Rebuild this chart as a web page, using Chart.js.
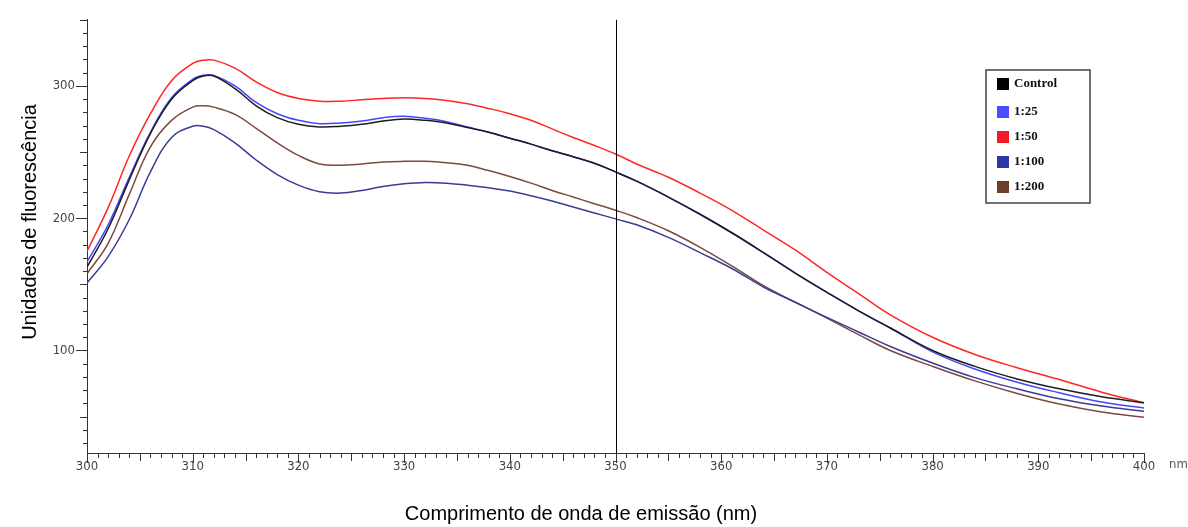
<!DOCTYPE html>
<html>
<head>
<meta charset="utf-8">
<script src="https://cdn.jsdelivr.net/npm/chart.js@4/dist/chart.umd.min.js"></script>
<style>
  html, body { margin: 0; padding: 0; background: #fff; }
  canvas { display: block; }
</style>
</head>
<body>
<canvas id="chart" width="1188" height="527"></canvas>
<script>
// emission wavelength (nm)
const wavelengths = [300, 302, 304, 306, 308, 310, 311, 312, 314, 316, 318, 320, 322, 324, 326, 328, 330,
  332, 334, 336, 338, 340, 342, 344, 346, 348, 350, 352, 355, 358, 361, 364, 367, 370, 373, 376,
  380, 384, 388, 392, 396, 400];

const controlValues = [163, 192, 229, 264, 290, 304, 307.5, 307.5, 298, 285, 276, 271, 269, 269.5, 271, 273.5, 275,
  274, 272, 268.5, 265, 260.5, 256, 251, 246.5, 241.5, 235, 228, 216, 203, 189, 174, 158.5, 144, 130, 117,
  100, 88, 78.5, 71, 65, 60.5];
const ratio25Values = [167, 195, 231, 265, 291, 305, 308, 308, 300, 287.5, 279, 274, 271.5, 272, 273.5, 276, 277,
  275.5, 273, 269, 265, 260.5, 256, 251, 246.5, 241.5, 235, 228, 216, 203, 189, 174, 158.5, 144, 130, 117,
  99, 86, 76, 68, 61, 56.5];
const ratio50Values = [175, 208, 247, 279, 304, 317, 319.5, 319.5, 313.5, 303, 295, 290.5, 288.5, 288.5, 289.5, 290.5, 291,
  290.5, 289, 286.5, 283, 279, 274, 267.5, 261, 255, 248.5, 241, 231, 219, 206, 191, 176, 159, 143, 127,
  110, 97, 87, 78, 68.5, 60.5];
const ratio100Values = [151, 171, 199, 235, 261, 269.5, 269.5, 267, 257, 244, 233, 225, 220, 219, 221, 224, 226,
  227, 226.5, 225, 223, 220.5, 217, 213, 208.5, 204, 199.5, 195, 185.5, 174, 162, 148, 136.5, 125, 114, 103,
  90.5, 79.5, 71, 63.5, 58, 54];
const ratio200Values = [158, 181, 218, 254, 274, 284, 285, 284, 278.5, 268, 257, 247.5, 241, 240, 241, 242.5, 243,
  243, 242, 240, 236, 231.5, 226.5, 221, 216, 211, 206, 200.5, 190.5, 178, 164, 149, 136.5, 124.5, 112, 100,
  88, 77, 67.5, 59.5, 53.5, 49.5];

const seriesLabels = ['Control', '1:25', '1:50', '1:100', '1:200'];
const seriesValues = [controlValues, ratio25Values, ratio50Values, ratio100Values, ratio200Values];
const lineColors = ['#1e1e1e', '#4646ff', '#ff2626', '#3c3c96', '#7a4a3e'];
const swatchColors = ['#000000', '#4c4cff', '#ee1c24', '#2b3aa3', '#6b3f2c'];

const yTickLabels = [100, 200, 300];
const markerWavelength = 350;

const tickFamily = "'Liberation Sans Narrow', 'DejaVu Sans Condensed', sans-serif";

const plotDecor = {
  id: 'plotDecor',
  afterDraw(chart) {
    const { ctx, chartArea, scales: { x, y } } = chart;
    ctx.save();

    // axis tick marks
    ctx.strokeStyle = '#333';
    ctx.lineWidth = 1;
    ctx.beginPath();
    for (let v = x.min; v <= x.max; v++) {
      const px = Math.round(x.getPixelForValue(v)) + 0.5;
      const len = v % 10 === 0 ? 10 : v % 5 === 0 ? 8 : 5;
      ctx.moveTo(px, chartArea.bottom);
      ctx.lineTo(px, chartArea.bottom + len);
    }
    for (let v = 30; v <= y.max; v += 10) {
      const py = Math.round(y.getPixelForValue(v)) + 0.5;
      const len = v % 100 === 0 ? 11 : v % 50 === 0 ? 7 : 4;
      ctx.moveTo(chartArea.left, py);
      ctx.lineTo(chartArea.left - len, py);
    }
    ctx.stroke();

    // marker line
    const mx = Math.round(x.getPixelForValue(markerWavelength)) + 0.5;
    ctx.strokeStyle = '#000';
    ctx.beginPath();
    ctx.moveTo(mx, chartArea.top);
    ctx.lineTo(mx, chartArea.bottom);
    ctx.stroke();

    // legend
    ctx.strokeStyle = '#444';
    ctx.lineWidth = 1.5;
    ctx.strokeRect(986, 70, 104, 133);
    const rows = [84, 112, 137, 162, 187];
    ctx.font = "bold 13px 'Liberation Serif', 'DejaVu Serif', serif";
    ctx.textBaseline = 'middle';
    ctx.textAlign = 'left';
    chart.data.datasets.forEach((ds, i) => {
      ctx.fillStyle = swatchColors[i];
      ctx.fillRect(997, rows[i] - 6, 12, 12);
      ctx.fillStyle = '#111';
      ctx.fillText(ds.label, 1014, rows[i]);
    });

    // axis titles
    ctx.fillStyle = '#000';
    ctx.font = "20px 'Liberation Sans', Arial, sans-serif";
    ctx.textAlign = 'center';
    ctx.fillText('Comprimento de onda de emissão (nm)', 581, 514);
    ctx.save();
    ctx.translate(30, 222);
    ctx.rotate(-Math.PI / 2);
    ctx.fillText('Unidades de fluorescência', 0, 0);
    ctx.restore();

    ctx.font = '13px ' + tickFamily;
    ctx.fillStyle = '#555';
    ctx.textAlign = 'left';
    ctx.fillText('nm', 1169, 465);

    ctx.restore();
  }
};

const datasets = seriesLabels.map((label, i) => ({
  label,
  data: wavelengths.map((w, j) => ({ x: w, y: seriesValues[i][j] })),
  borderColor: lineColors[i],
  borderWidth: 1.5,
  pointRadius: 0,
  tension: 0.4,
  fill: false,
}));

new Chart(document.getElementById('chart'), {
  type: 'line',
  data: { datasets },
  options: {
    responsive: false,
    animation: false,
    layout: { padding: { top: 16, right: 44, left: 0, bottom: 0 } },
    plugins: {
      legend: { display: false },
      tooltip: { enabled: false },
    },
    scales: {
      x: {
        type: 'linear',
        min: 300,
        max: 400,
        afterFit: (scale) => { scale.height = 74; },
        grid: { display: false, drawTicks: false },
        border: { display: true, color: '#333', width: 1 },
        ticks: {
          stepSize: 10,
          autoSkip: false,
          maxRotation: 0,
          padding: 6,
          color: '#444',
          font: { family: tickFamily, size: 13 },
        },
      },
      y: {
        min: 22.5,
        max: 350,
        afterFit: (scale) => { scale.width = 87; },
        afterBuildTicks: (scale) => {
          scale.ticks = yTickLabels.map((v) => ({ value: v }));
        },
        grid: { display: false, drawTicks: false },
        border: { display: true, color: '#333', width: 1 },
        ticks: {
          padding: 12,
          color: '#444',
          font: { family: tickFamily, size: 13 },
        },
      },
    },
  },
  plugins: [plotDecor],
});
</script>
</body>
</html>
